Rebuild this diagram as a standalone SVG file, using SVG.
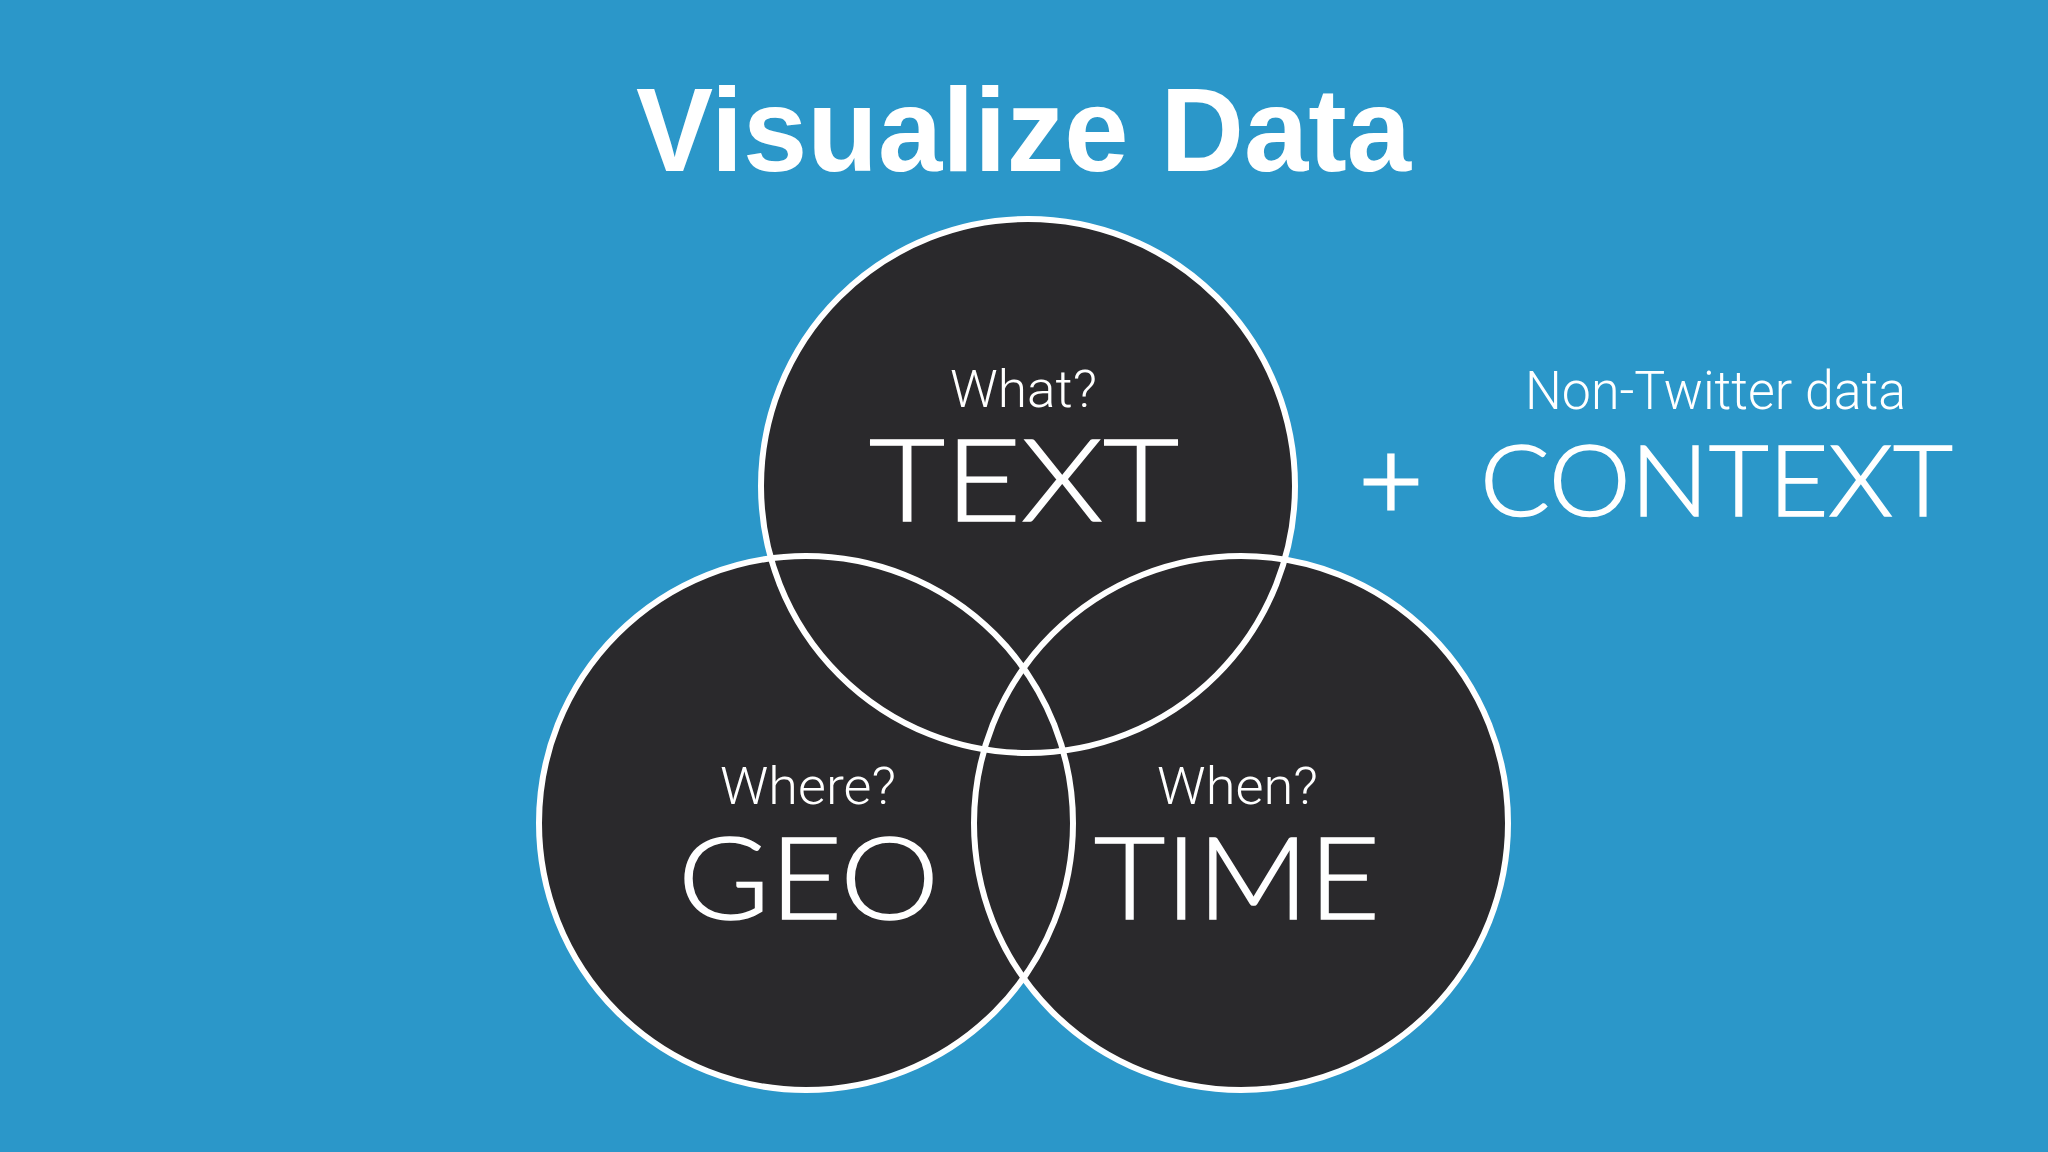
<svg xmlns="http://www.w3.org/2000/svg" width="2048" height="1152" viewBox="0 0 2048 1152">
<style>
.bg{fill:#2b97c9}
.fill{fill:#2a292c}
.ring{fill:none;stroke:#ffffff;stroke-width:6}
.title{font-family:"Liberation Sans",Arial,sans-serif;font-weight:bold;fill:#ffffff}
.q{font-family:Roboto,"Liberation Sans",sans-serif;font-weight:300;fill:#ffffff}
.big{font-family:Lato,"Open Sans",sans-serif;font-weight:300;fill:#ffffff;stroke:#ffffff;stroke-width:1.6}
</style>
<rect class="bg" x="0" y="0" width="2048" height="1152"/>
<text class="title" x="636" y="171" font-size="118" textLength="775" lengthAdjust="spacingAndGlyphs">Visualize Data</text>
<g id="fills">
<circle class="fill" cx="1028" cy="486" r="267"/>
<circle class="fill" cx="806" cy="823" r="267"/>
<circle class="fill" cx="1241" cy="823" r="267"/>
</g>
<g id="node-text">
<circle class="ring" cx="1028" cy="486" r="267"/>
<text class="q" x="950" y="407" font-size="52" textLength="147" lengthAdjust="spacingAndGlyphs">What?</text>
<text class="big" x="869" y="521" font-size="114" textLength="310" lengthAdjust="spacingAndGlyphs">TEXT</text>
</g>
<g id="node-geo">
<circle class="ring" cx="806" cy="823" r="267"/>
<text class="q" x="720" y="804" font-size="52" textLength="176" lengthAdjust="spacingAndGlyphs">Where?</text>
<text class="big" x="678" y="919" font-size="114" textLength="261" lengthAdjust="spacingAndGlyphs">GEO</text>
</g>
<g id="node-time">
<circle class="ring" cx="1241" cy="823" r="267"/>
<text class="q" x="1157" y="804" font-size="52" textLength="161" lengthAdjust="spacingAndGlyphs">When?</text>
<text class="big" x="1094" y="919" font-size="114" textLength="286" lengthAdjust="spacingAndGlyphs">TIME</text>
</g>
<g id="node-context">
<text class="q" x="1525" y="409" font-size="53" textLength="381" lengthAdjust="spacingAndGlyphs">Non-Twitter data</text>
<text class="big" x="1391" y="519" font-size="110" text-anchor="middle" style="stroke-width:3">+</text>
<text class="big" x="1480" y="516" font-size="99" textLength="473" lengthAdjust="spacingAndGlyphs">CONTEXT</text>
</g>
<g id="connectors"/>
</svg>
